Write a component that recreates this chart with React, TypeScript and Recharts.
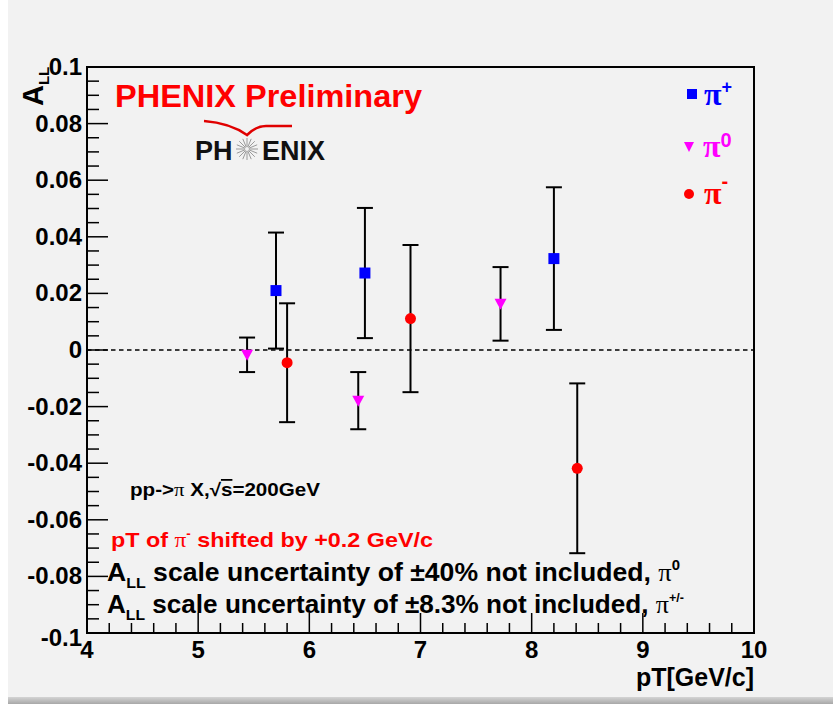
import React from "react";
import { ScatterChart, Scatter, XAxis, YAxis, ErrorBar, ReferenceLine, ReferenceArea } from "recharts";

// A_LL vs pT, three pion species (pi- already shifted by +0.2 GeV/c)
const piPlusPt = [5.7, 6.5, 8.2];
const piPlusAll = [0.021, 0.0272, 0.0323];
const piPlusErr = [0.0205, 0.023, 0.0252];

const piZeroPt = [5.44, 6.44, 7.72];
const piZeroAll = [-0.0017, -0.0179, 0.0163];
const piZeroErr = [0.0061, 0.0101, 0.013];

const piMinusPt = [5.8, 6.91, 8.41];
const piMinusAll = [-0.0045, 0.0111, -0.0418];
const piMinusErr = [0.021, 0.026, 0.03];

const xDomain = [4, 10];
const yDomain = [-0.1, 0.1];
const xMinorStep = 0.2;
const yMinorStep = 0.005;
const yMajorStep = 0.02;

const FONT = "'Liberation Sans', Arial, Helvetica, sans-serif";
const SERIF = "'Liberation Serif', 'Times New Roman', serif";

const toPoints = (pt: number[], all: number[], err: number[]) =>
  pt.map((x, i) => ({ x, y: all[i], err: err[i] }));

const makeTicks = (lo: number, hi: number, step: number) => {
  const out: number[] = [];
  const n = Math.round((hi - lo) / step);
  for (let i = 0; i <= n; i++) out.push(Number((lo + i * step).toFixed(4)));
  return out;
};

const xTicks = makeTicks(xDomain[0], xDomain[1], xMinorStep);
const yTicks = makeTicks(yDomain[0], yDomain[1], yMinorStep);

const isMultiple = (v: number, step: number) => Math.abs(v / step - Math.round(v / step)) < 1e-6;

const fmtY = (v: number) => {
  const s = Number(v.toFixed(3)).toString();
  return s === "-0" ? "0" : s;
};

const XTick = (props: any) => {
  const { x, y, payload } = props;
  const v = payload.value;
  const major = isMultiple(v, 1);
  return (
    <g>
      <line x1={x} x2={x} y1={y} y2={y - (major ? 20 : 10)} stroke="#000" strokeWidth={1.5} />
      {major && (
        <text x={x} y={y + 25} textAnchor="middle" fontFamily={FONT} fontWeight="bold" fontSize={24} fill="#000">
          {Math.round(v)}
        </text>
      )}
    </g>
  );
};

const YTick = (props: any) => {
  const { x, y, payload } = props;
  const v = payload.value;
  const major = isMultiple(v, yMajorStep);
  return (
    <g>
      <line x1={x} x2={x + (major ? 21 : 12)} y1={y} y2={y} stroke="#000" strokeWidth={1.5} />
      {major && (
        <text
          x={x - 5}
          y={y + (v <= yDomain[0] + 1e-9 ? 13 : 8)}
          textAnchor="end"
          fontFamily={FONT}
          fontWeight="bold"
          fontSize={24}
          fill="#000"
        >
          {fmtY(v)}
        </text>
      )}
    </g>
  );
};

const Square = (props: any) => (
  <rect x={props.cx - 5.5} y={props.cy - 5.5} width={11} height={11} fill="#0000ff" />
);
const TriDown = (props: any) => {
  const { cx, cy } = props;
  return <polygon points={`${cx - 6},${cy - 5} ${cx + 6},${cy - 5} ${cx},${cy + 6}`} fill="#ff00ff" />;
};
const Dot = (props: any) => <circle cx={props.cx} cy={props.cy} r={5.5} fill="#ff0000" />;

const starRays = Array.from({ length: 16 }, (_, i) => (i * Math.PI) / 8);

export default function App() {
  return (
    <>
      <div
        style={{
          position: "absolute",
          left: 8,
          top: 0,
          width: 825,
          height: 704,
          background: "#f2f2f2",
          overflow: "hidden",
        }}
      >
        <ScatterChart width={825} height={704} margin={{ top: 67, right: 79, bottom: 21, left: 19 }}>
          <XAxis
            type="number"
            dataKey="x"
            domain={xDomain}
            ticks={xTicks}
            interval={0}
            allowDataOverflow
            height={50}
            tickSize={0}
            tickMargin={0}
            tickLine={false}
            axisLine={{ stroke: "#000", strokeWidth: 2 }}
            tick={<XTick />}
          />
          <YAxis
            type="number"
            dataKey="y"
            domain={yDomain}
            ticks={yTicks}
            interval={0}
            allowDataOverflow
            width={60}
            tickSize={0}
            tickMargin={0}
            tickLine={false}
            axisLine={{ stroke: "#000", strokeWidth: 2 }}
            tick={<YTick />}
          />
          <ReferenceArea
            x1={xDomain[0]}
            x2={xDomain[1]}
            y1={yDomain[0]}
            y2={yDomain[1]}
            fill="none"
            stroke="#000"
            strokeWidth={2}
            fillOpacity={0}
          />
          <ReferenceLine y={0} stroke="#000" strokeWidth={1.5} strokeDasharray="4.5 3.5" />
          <Scatter data={toPoints(piPlusPt, piPlusAll, piPlusErr)} shape={<Square />} isAnimationActive={false}>
            <ErrorBar dataKey="err" direction="y" width={8} stroke="#000" strokeWidth={2} isAnimationActive={false} />
          </Scatter>
          <Scatter data={toPoints(piZeroPt, piZeroAll, piZeroErr)} shape={<TriDown />} isAnimationActive={false}>
            <ErrorBar dataKey="err" direction="y" width={8} stroke="#000" strokeWidth={2} isAnimationActive={false} />
          </Scatter>
          <Scatter data={toPoints(piMinusPt, piMinusAll, piMinusErr)} shape={<Dot />} isAnimationActive={false}>
            <ErrorBar dataKey="err" direction="y" width={8} stroke="#000" strokeWidth={2} isAnimationActive={false} />
          </Scatter>
        </ScatterChart>
        <div
          style={{
            position: "absolute",
            left: 0,
            bottom: 0,
            width: 825,
            height: 7,
            background: "linear-gradient(#d4d4d4, #a8a8a8)",
          }}
        />
      </div>

      <svg
        width={833}
        height={704}
        style={{ position: "absolute", left: 0, top: 0, pointerEvents: "none" }}
        fontFamily={FONT}
        fontWeight="bold"
      >
        {/* y axis title */}
        <text transform="translate(43,106) rotate(-90)" fontSize={29} fill="#000">
          A<tspan fontSize={15} dy={6}>LL</tspan>
        </text>

        {/* x axis title */}
        <text x={754} y={686} textAnchor="end" fontSize={25} fill="#000">
          pT[GeV/c]
        </text>

        {/* preliminary stamp and logo */}
        <text x={115} y={107} fontSize={31} fill="#ff0000" textLength={307} lengthAdjust="spacingAndGlyphs">
          PHENIX Preliminary
        </text>
        <path
          d="M204,121 Q230,123 247,135 Q256,126 266,126 L292,126"
          fill="none"
          stroke="#e00000"
          strokeWidth={2.5}
        />
        <text x={195} y={160} fontSize={27} fill="#111">
          PH
        </text>
        {starRays.map((a, i) => (
          <line
            key={i}
            x1={247 + Math.cos(a) * 2}
            y1={149 + Math.sin(a) * 2}
            x2={247 + Math.cos(a) * 11}
            y2={149 + Math.sin(a) * 11}
            stroke="#9a9a9a"
            strokeWidth={1}
          />
        ))}
        <text x={262} y={160} fontSize={27} fill="#111">
          ENIX
        </text>

        {/* legend */}
        <rect x={687} y={89} width={10} height={10} fill="#0000ff" />
        <text x={704} y={105} fill="#0000ff">
          <tspan fontFamily={SERIF} fontWeight="bold" fontSize={32}>π</tspan>
          <tspan fontSize={18} dy={-12}>+</tspan>
        </text>
        <polygon points="684,142 694,142 689,152" fill="#ff00ff" />
        <text x={703} y={157} fill="#ff00ff">
          <tspan fontFamily={SERIF} fontWeight="bold" fontSize={32}>π</tspan>
          <tspan fontSize={20} dy={-10}>0</tspan>
        </text>
        <circle cx={689} cy={194} r={5} fill="#ff0000" />
        <text x={704} y={204} fill="#ff0000">
          <tspan fontFamily={SERIF} fontWeight="bold" fontSize={32}>π</tspan>
          <tspan fontSize={20} dy={-16}>-</tspan>
        </text>

        {/* annotations */}
        <text x={130} y={496} fontSize={18} fill="#000" textLength={190} lengthAdjust="spacingAndGlyphs">
          pp-&gt;<tspan fontFamily={SERIF} fontWeight="normal">π</tspan> X,√
          <tspan style={{ textDecoration: "overline" }}>s</tspan>=200GeV
        </text>
        <text x={111} y={547} fontSize={21} fill="#ff0000" textLength={322} lengthAdjust="spacingAndGlyphs">
          pT of <tspan fontFamily={SERIF} fontWeight="normal">π</tspan>
          <tspan fontSize={12} dy={-9}>-</tspan>
          <tspan dy={9}> shifted by +0.2 GeV/c</tspan>
        </text>
        <text x={107} y={581} fontSize={25} fill="#000" textLength={573} lengthAdjust="spacingAndGlyphs">
          A<tspan fontSize={15} dy={7}>LL</tspan>
          <tspan dy={-7}> scale uncertainty of ±40% not included, </tspan>
          <tspan fontFamily={SERIF} fontWeight="normal">π</tspan>
          <tspan fontSize={14} dy={-11}>0</tspan>
        </text>
        <text x={107} y={613} fontSize={25} fill="#000" textLength={577} lengthAdjust="spacingAndGlyphs">
          A<tspan fontSize={15} dy={7}>LL</tspan>
          <tspan dy={-7}> scale uncertainty of ±8.3% not included, </tspan>
          <tspan fontFamily={SERIF} fontWeight="normal">π</tspan>
          <tspan fontSize={12} dy={-11}>+/-</tspan>
        </text>
      </svg>
    </>
  );
}
